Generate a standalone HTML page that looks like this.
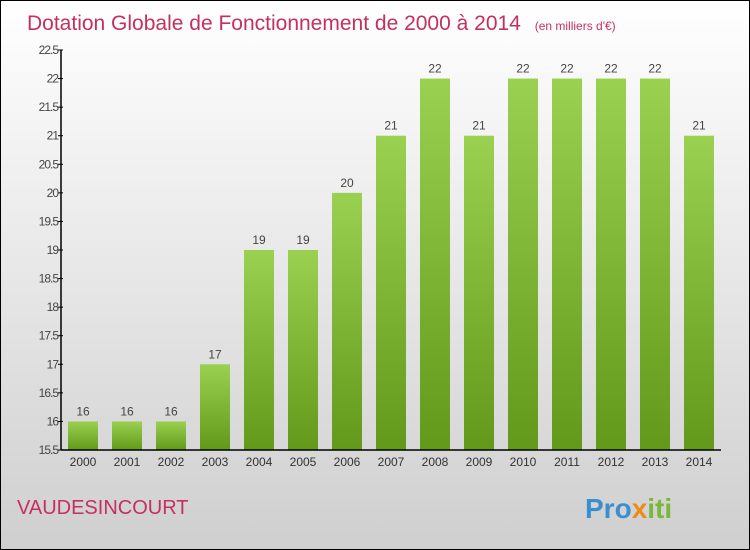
<!DOCTYPE html>
<html><head><meta charset="utf-8"><style>
body{margin:0}
#c{position:relative;width:748px;height:548px;border:1px solid #000;background:linear-gradient(#fff,#cfcfcf);font-family:"Liberation Sans",sans-serif;overflow:hidden}
</style></head><body>
<div id="c">
<svg width="748" height="548" style="position:absolute;left:0;top:0" id="svg">
<defs><linearGradient id="g" x1="0" y1="0" x2="0" y2="1"><stop offset="0" stop-color="#9ad150"/><stop offset="1" stop-color="#62991a"/></linearGradient></defs>
<text x="26" y="29" font-size="21" fill="#c4305f">Dotation Globale de Fonctionnement de 2000 à 2014 <tspan font-size="12" dx="8">(en milliers d'€)</tspan></text>
<text x="16" y="513" font-size="20" fill="#c4305f">VAUDESINCOURT</text>
<text x="584" y="517" font-size="28" font-weight="bold"><tspan fill="#3a8fd0">Pro</tspan><tspan fill="#f08a1a">x</tspan><tspan fill="#7ab83a">iti</tspan></text>
<g id="plot"></g>
</svg>
</div>
<script>
const years=["2000","2001","2002","2003","2004","2005","2006","2007","2008","2009","2010","2011","2012","2013","2014"];
const values=[16,16,16,17,19,19,20,21,22,21,22,22,22,22,21];
const ticks=[15.5,16,16.5,17,17.5,18,18.5,19,19.5,20,20.5,21,21.5,22,22.5];
const ns="http://www.w3.org/2000/svg";
const g=document.getElementById('plot');
const x0=60,x1=720,yMin=15.5,yMax=22.5,yb=449,yt=49;
const y=v=>yb-(v-yMin)/(yMax-yMin)*(yb-yt);
const band=(x1-x0)/years.length;
const cx=i=>x0+band*(i+0.5);
function mk(t,a){const e=document.createElementNS(ns,t);for(const k in a)e.setAttribute(k,a[k]);g.appendChild(e);return e;}
values.forEach((v,i)=>{
 const b=mk('rect',{x:cx(i)-15,y:y(v),width:30,height:yb-y(v),fill:'url(#g)'});
 
 
 const t=mk('text',{x:cx(i),y:y(v)-6,'text-anchor':'middle','font-size':12,fill:'#444'});
 t.textContent=v;
 
 
 const l=mk('text',{x:cx(i),y:yb+16,'text-anchor':'middle','font-size':12,fill:'#333'});
 l.textContent=years[i];
 
 
});
ticks.forEach(v=>{
 mk('line',{x1:x0-3,x2:x0+2,y1:y(v),y2:y(v),stroke:'#000'});
 const t=mk('text',{x:x0-3,y:y(v)+4,'text-anchor':'end','font-size':12,fill:'#444','letter-spacing':'-1'});
 t.textContent=v;
 
 
});
const ya=mk('line',{x1:x0,x2:x0,y1:yt,y2:yb,stroke:'#000','stroke-width':1.5});


const xa=mk('line',{x1:x0,x2:x1,y1:yb,y2:yb,stroke:'#000','stroke-width':1.5});


</script>
</body></html>
